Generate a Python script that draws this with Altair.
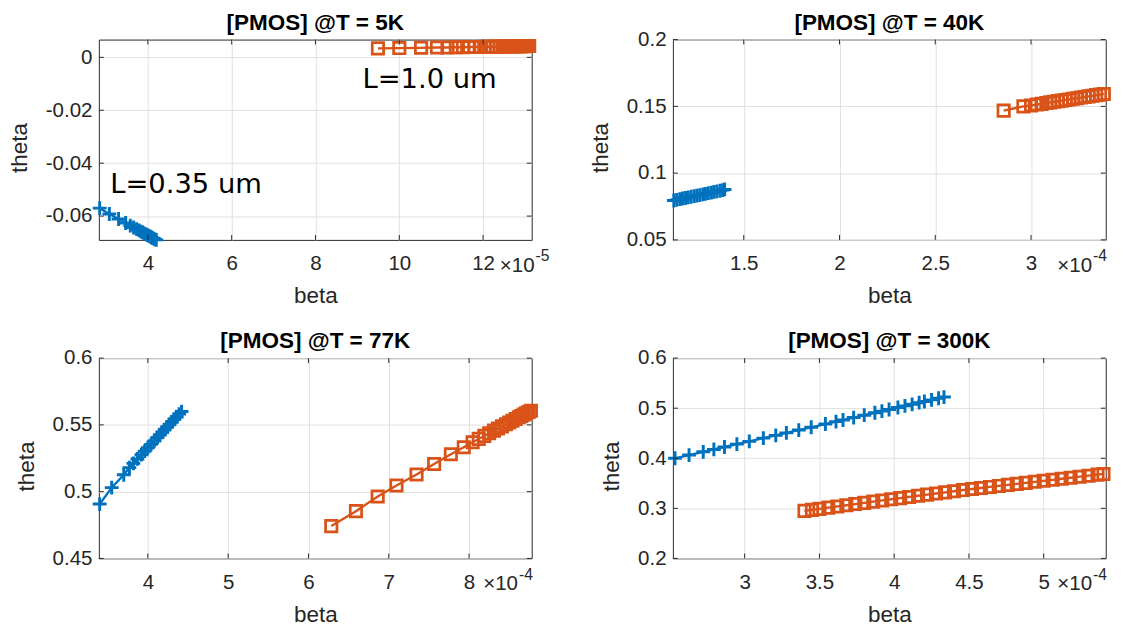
import altair as alt
import pandas as pd

FONT = "Liberation Sans"
BLUE = "#0072BD"
ORANGE = "#D95319"
INK = "#262626"

titles = ["[PMOS] @T = 5K", "[PMOS] @T = 40K", "[PMOS] @T = 77K", "[PMOS] @T = 300K"]
exponents = ["-5", "-4", "-4", "-4"]

# beta values are in units of 10^exponent
x_domains = [[2.83, 13.16], [1.13, 3.39], [3.39, 8.78], [2.52, 5.415]]
y_domains = [[-0.069, 0.0067], [0.05, 0.2], [0.45, 0.6], [0.2, 0.6]]
x_ticks = [[4, 6, 8, 10, 12], [1.5, 2, 2.5, 3], [4, 5, 6, 7, 8], [3, 3.5, 4, 4.5, 5]]
y_ticks = [[-0.06, -0.04, -0.02, 0], [0.05, 0.1, 0.15, 0.2], [0.45, 0.5, 0.55, 0.6],
           [0.2, 0.3, 0.4, 0.5, 0.6]]

# L = 0.35 um (blue, '+')
blue_x_5K = [2.85, 3.08, 3.30, 3.47, 3.58, 3.66, 3.73, 3.79, 3.84, 3.88, 3.92, 3.96, 3.99,
             4.02, 4.05, 4.08, 4.11, 4.14, 4.17, 4.20]
blue_y_5K = [-0.0570, -0.0592, -0.0611, -0.0626, -0.0636, -0.0643, -0.0649, -0.0654, -0.0659,
             -0.0662, -0.0666, -0.0669, -0.0672, -0.0675, -0.0677, -0.0680, -0.0683, -0.0685,
             -0.0688, -0.0690]
# L = 1.0 um (orange, squares)
orange_x_5K = [9.49, 10.00, 10.52, 10.90, 11.15, 11.35, 11.52, 11.67, 11.80, 11.92, 12.03, 12.13,
               12.22, 12.31, 12.39, 12.47, 12.54, 12.61, 12.68, 12.74, 12.80, 12.86, 12.91, 12.96,
               13.01, 13.06, 13.10]
orange_y_5K = [0.0034, 0.0035, 0.0036, 0.0037, 0.0037, 0.0038, 0.0038, 0.0039, 0.0039, 0.0039,
               0.0040, 0.0040, 0.0040, 0.0040, 0.0041, 0.0041, 0.0041, 0.0041, 0.0041, 0.0042,
               0.0042, 0.0042, 0.0042, 0.0042, 0.0042, 0.0043, 0.0043]

blue_x_40K = [1.135, 1.150, 1.166, 1.180, 1.196, 1.210, 1.225, 1.241, 1.255, 1.270, 1.286, 1.300,
              1.315, 1.331, 1.345, 1.360, 1.376, 1.390, 1.400]
blue_y_40K = [0.0795, 0.0800, 0.0805, 0.0810, 0.0814, 0.0819, 0.0823, 0.0828, 0.0832, 0.0836,
              0.0841, 0.0845, 0.0850, 0.0854, 0.0859, 0.0863, 0.0868, 0.0873, 0.0878]
orange_x_40K = [2.857, 2.960, 3.000, 3.030, 3.055, 3.080, 3.100, 3.120, 3.140, 3.160, 3.180,
                3.200, 3.220, 3.240, 3.260, 3.280, 3.300, 3.320, 3.340, 3.360, 3.380]
orange_y_40K = [0.1468, 0.1500, 0.1507, 0.1514, 0.1519, 0.1525, 0.1530, 0.1534, 0.1539, 0.1543,
                0.1548, 0.1552, 0.1557, 0.1561, 0.1566, 0.1570, 0.1575, 0.1579, 0.1584, 0.1588,
                0.1593]

blue_x_77K = [3.40, 3.55, 3.70, 3.77, 3.82, 3.87, 3.92, 3.96, 4.00, 4.04, 4.08, 4.12, 4.15, 4.18,
              4.21, 4.24, 4.27, 4.30, 4.33, 4.36, 4.39, 4.42]
blue_y_77K = [0.4907, 0.5030, 0.5126, 0.5180, 0.5212, 0.5245, 0.5277, 0.5303, 0.5329, 0.5354,
              0.5380, 0.5406, 0.5426, 0.5445, 0.5465, 0.5484, 0.5503, 0.5523, 0.5542, 0.5561,
              0.5581, 0.5600]
orange_x_77K = [6.284, 6.591, 6.862, 7.096, 7.346, 7.565, 7.773, 7.934, 8.044, 8.12, 8.19, 8.25,
                8.31, 8.36, 8.41, 8.46, 8.50, 8.54, 8.58, 8.62, 8.65, 8.68, 8.71, 8.74, 8.77]
orange_y_77K = [0.4742, 0.4854, 0.4964, 0.5046, 0.5129, 0.5207, 0.5280, 0.5333, 0.5370, 0.5395,
                0.5418, 0.5437, 0.5457, 0.5473, 0.5489, 0.5505, 0.5518, 0.5531, 0.5544, 0.5557,
                0.5567, 0.5577, 0.5586, 0.5596, 0.5606]

blue_x_300K = [2.534, 2.628, 2.723, 2.794, 2.865, 2.948, 3.031, 3.125, 3.208, 3.279, 3.362, 3.445,
               3.540, 3.611, 3.658, 3.729, 3.800, 3.871, 3.918, 3.966, 4.025, 4.072, 4.120, 4.167,
               4.202, 4.250, 4.297, 4.333]
blue_y_300K = [0.4000, 0.4064, 0.4129, 0.4177, 0.4225, 0.4282, 0.4338, 0.4402, 0.4458, 0.4507,
               0.4563, 0.4619, 0.4684, 0.4732, 0.4764, 0.4813, 0.4861, 0.4909, 0.4941, 0.4974,
               0.5014, 0.5046, 0.5078, 0.5110, 0.5134, 0.5167, 0.5199, 0.5223]
orange_x_300K = [3.40, 3.45, 3.50, 3.56, 3.62, 3.68, 3.74, 3.80, 3.86, 3.92, 3.98, 4.04, 4.10,
                 4.16, 4.22, 4.28, 4.34, 4.40, 4.46, 4.52, 4.58, 4.64, 4.70, 4.76, 4.82, 4.88,
                 4.94, 5.00, 5.06, 5.12, 5.18, 5.24, 5.30, 5.36, 5.40]
orange_y_300K = [0.2950, 0.2970, 0.2990, 0.3014, 0.3038, 0.3062, 0.3086, 0.3110, 0.3134, 0.3158,
                 0.3182, 0.3205, 0.3228, 0.3251, 0.3274, 0.3296, 0.3319, 0.3342, 0.3365, 0.3387,
                 0.3407, 0.3428, 0.3448, 0.3468, 0.3489, 0.3509, 0.3530, 0.3550, 0.3570, 0.3591,
                 0.3611, 0.3632, 0.3652, 0.3673, 0.3687]

blue_x = [blue_x_5K, blue_x_40K, blue_x_77K, blue_x_300K]
blue_y = [blue_y_5K, blue_y_40K, blue_y_77K, blue_y_300K]
orange_x = [orange_x_5K, orange_x_40K, orange_x_77K, orange_x_300K]
orange_y = [orange_y_5K, orange_y_40K, orange_y_77K, orange_y_300K]

note_labels = ["L=0.35 um", "L=1.0 um"]
note_beta = [3.10, 9.12]
note_theta = [-0.0512, -0.0115]

W, H = 443, 205
TICK = 5
PLUS = "M-1,0L1,0M0,-1L0,1"
EXP_RIGHT = [18, 1, 1, 1]   # how far the x10^n label reaches past the right edge (px)


def panel(i):
    b = pd.DataFrame({"beta": blue_x[i], "theta": blue_y[i]})
    o = pd.DataFrame({"beta": orange_x[i], "theta": orange_y[i]})
    xt = pd.DataFrame({"beta": x_ticks[i]})
    yt = pd.DataFrame({"theta": y_ticks[i]})
    xs = alt.Scale(domain=x_domains[i], nice=False, zero=False)
    ys = alt.Scale(domain=y_domains[i], nice=False, zero=False)
    X = alt.X("beta:Q", scale=xs,
              axis=alt.Axis(values=x_ticks[i], labelExpr="datum.value + ''", title="beta"))
    Y = alt.Y("theta:Q", scale=ys,
              axis=alt.Axis(values=y_ticks[i], labelExpr="datum.value + ''", title="theta",
                            titleY=H / 2 + 8))
    Xn = alt.X("beta:Q", scale=xs)
    Yn = alt.Y("theta:Q", scale=ys)
    tick = dict(color=INK, strokeWidth=1)
    layers = [
        alt.Chart(b).mark_line(color=BLUE, strokeWidth=2.4, clip=True).encode(X, Y),
        alt.Chart(b).mark_point(shape=PLUS, filled=False, size=200, strokeWidth=3,
                                color=BLUE, opacity=1).encode(X, Y),
        alt.Chart(o).mark_line(color=ORANGE, strokeWidth=2.4, clip=True).encode(X, Y),
        alt.Chart(o).mark_point(shape="square", filled=False, size=135, strokeWidth=2.8,
                                color=ORANGE, opacity=1).encode(X, Y),
        # inward tick marks on all four sides (MATLAB box style)
        alt.Chart(xt).mark_rule(**tick).encode(x=Xn, y=alt.value(H), y2=alt.value(H - TICK)),
        alt.Chart(xt).mark_rule(**tick).encode(x=Xn, y=alt.value(0), y2=alt.value(TICK)),
        alt.Chart(yt).mark_rule(**tick).encode(y=Yn, x=alt.value(0), x2=alt.value(TICK)),
        alt.Chart(yt).mark_rule(**tick).encode(y=Yn, x=alt.value(W), x2=alt.value(W - TICK)),
    ]
    e = pd.DataFrame({"base": ["\u00d710"], "exp": [exponents[i]], "title": [titles[i]]})
    sup_w = 15
    layers.append(alt.Chart(e).mark_text(align="right", baseline="top", font=FONT,
                                         fontSize=21, color=INK)
                  .encode(text="base:N", x=alt.value(W + EXP_RIGHT[i] - sup_w),
                          y=alt.value(H + 15.5)))
    layers.append(alt.Chart(e).mark_text(align="left", baseline="top", font=FONT,
                                         fontSize=16, color=INK)
                  .encode(text="exp:N", x=alt.value(W + EXP_RIGHT[i] - sup_w + 1),
                          y=alt.value(H + 9)))
    # panel title, placed at a fixed distance above the plot area
    layers.append(alt.Chart(e).mark_text(align="center", baseline="alphabetic", font=FONT,
                                         fontSize=23, fontWeight="bold", color="black")
                  .encode(text="title:N", x=alt.value(W / 2), y=alt.value(-10)))
    if i == 0:
        n = pd.DataFrame({"beta": note_beta, "theta": note_theta, "label": note_labels})
        layers.append(alt.Chart(n).mark_text(align="left", baseline="alphabetic",
                                             font="DejaVu Sans", fontSize=28, color="black")
                      .encode(x=Xn, y=Yn, text="label:N"))
    return alt.layer(*layers).properties(width=W, height=H)


chart = alt.concat(panel(0), panel(1), panel(2), panel(3), columns=2,
                   spacing={"row": 121, "column": 144.5}, bounds="flush").properties(
    padding={"left": 0, "top": -4, "right": 0, "bottom": 0}
).configure_view(stroke=INK, strokeWidth=1).configure_axis(
    labelFont=FONT, labelFontSize=21, labelColor=INK, titleFont=FONT, titleFontSize=23,
    titleFontWeight="normal", titleColor=INK, gridColor="#dfdfdf", gridWidth=1,
    domain=False, ticks=False, labelFlush=False, labelOverlap=False
).configure_axisX(labelPadding=13.5, titlePadding=12).configure_axisY(
    labelPadding=7, titlePadding=14)

chart.save("out.html", embed_options={"renderer": "svg", "actions": False})
